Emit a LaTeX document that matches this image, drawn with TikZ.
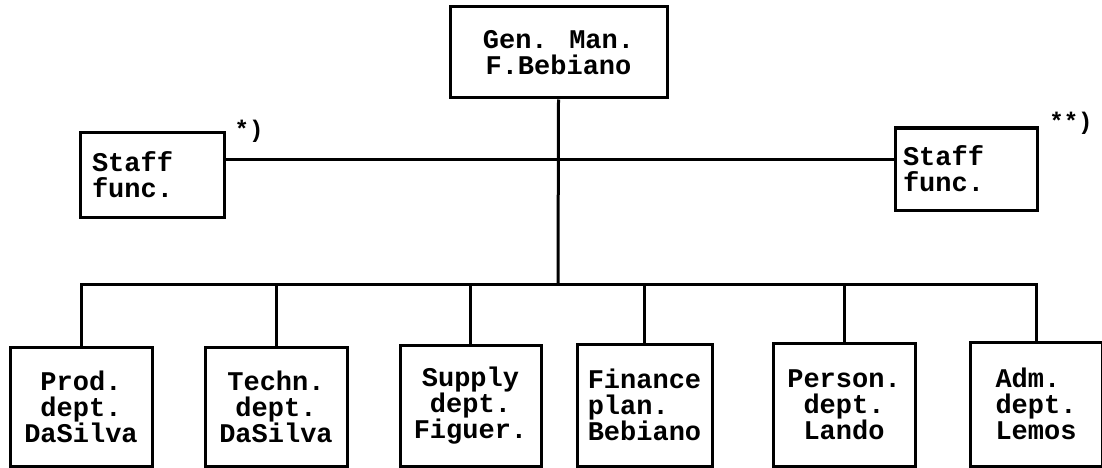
\documentclass[tikz,border=0pt]{standalone}
\usepackage{fontspec}
\newfontfamily\courfont{Liberation Mono}
\begin{document}
\begin{tikzpicture}[x=1pt,y=-1pt,
  box/.style={draw, line width=3pt, inner sep=0pt, font=\courfont\bfseries\fontsize{27}{26}\selectfont},
  conn/.style={line width=3pt, line join=miter},
  note/.style={inner sep=0pt, font=\courfont\bfseries\fontsize{24}{24}\selectfont}]
\useasboundingbox (0,0) rectangle (1102,468);
% top
\node[box, align=center, minimum width=217pt, minimum height=91pt] (gm) at (558.5,52.5) {Gen. Man.\\F.Bebiano};
% staff
\node[box, align=left, text width=120pt, inner xsep=12pt, minimum height=85pt] (staffL) at (152,174.5) {Staff\\func.};
\node[box, align=left, text width=126pt, inner xsep=8pt, minimum height=82pt] (staffR) at (966,169) {Staff\\func.};
\node[note] (astL) at (249,131) {*)};
\node[note] (astR) at (1071,123) {**)};
% departments
\node[box, align=center, minimum width=142pt, minimum height=119pt] (prod) at (81,406.5) {Prod.\\dept.\\DaSilva};
\node[box, align=center, minimum width=142pt, minimum height=119pt] (techn) at (276,406.5) {Techn.\\dept.\\DaSilva};
\node[box, align=center, minimum width=141pt, minimum height=121pt] (supply) at (470.5,405.5) {Supply\\dept.\\Figuer.};
\node[box, align=left, minimum width=135pt, minimum height=122pt] (fin) at (644.5,405) {Finance\\plan.\\Bebiano};
\node[box, align=center, minimum width=142pt, minimum height=123pt] (pers) at (844,404.5) {Person.\\dept.\\Lando};
\node[box, align=left, minimum width=132pt, minimum height=124pt] (adm) at (1036,404) {Adm.\\dept.\\Lemos};
% connectors
\coordinate (bus) at (558,284);
\coordinate (sj) at (558,159);
\draw[conn] (gm.south) -- (bus);
\draw[conn] (staffL.east |- sj) -- (staffR.west |- sj);
\draw[conn] (prod.north) |- (adm.north |- bus) -- (adm.north);
\draw[conn] (techn.north) -- (techn.north |- bus);
\draw[conn] (supply.north) -- (supply.north |- bus);
\draw[conn] (fin.north) -- (fin.north |- bus);
\draw[conn] (pers.north) -- (pers.north |- bus);
\end{tikzpicture}
\end{document}
